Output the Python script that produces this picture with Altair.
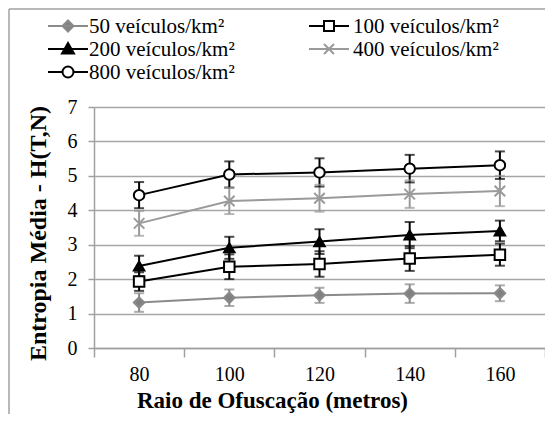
import altair as alt
import pandas as pd

raio = [80, 100, 120, 140, 160]
series = ["50 veículos/km²", "100 veículos/km²", "200 veículos/km²",
          "400 veículos/km²", "800 veículos/km²"]
v50 = [1.32, 1.46, 1.53, 1.58, 1.59]
e50 = [0.27, 0.24, 0.22, 0.27, 0.23]
v100 = [1.93, 2.36, 2.44, 2.60, 2.71]
e100 = [0.27, 0.36, 0.37, 0.36, 0.32]
v200 = [2.38, 2.91, 3.09, 3.28, 3.40]
e200 = [0.30, 0.32, 0.36, 0.38, 0.30]
v400 = [3.62, 4.27, 4.35, 4.47, 4.56]
e400 = [0.36, 0.38, 0.39, 0.40, 0.44]
v800 = [4.44, 5.04, 5.10, 5.21, 5.31]
e800 = [0.38, 0.38, 0.41, 0.40, 0.40]

line_colors = ["#8a8a8a", "#000000", "#000000", "#9a9a9a", "#000000"]
fill_colors = ["#808080", "#ffffff", "#000000", "transparent", "#ffffff"]
shapes = ["diamond", "square", "triangle-up", "M-1,-1L1,1M-1,1L1,-1", "circle"]
sizes = [110, 110, 120, 70, 150]
legend_paths = [
    "M-2,0H2M0,-0.55L0.55,0L0,0.55L-0.55,0Z",
    "M-2,0H-0.5M0.5,0H2M-0.5,-0.5H0.5V0.5H-0.5Z",
    "M-2,0H2M0,-0.6L0.6,0.45H-0.6Z",
    "M-2,0H2M-0.5,-0.5L0.5,0.5M-0.5,0.5L0.5,-0.5",
    "M-2,0H-0.55M0.55,0H2M-0.55,0A0.55,0.55 0 1,0 0.55,0A0.55,0.55 0 1,0 -0.55,0Z",
]
# legend grid slot (column, row) of each series
legend_col = [0, 1, 0, 1, 0]
legend_row = [0, 0, 1, 1, 2]

rows = []
for s, vals, errs in zip(series, [v50, v100, v200, v400, v800], [e50, e100, e200, e400, e800]):
    for r, v, e in zip(raio, vals, errs):
        rows.append({"raio": r, "serie": s, "val": v, "lo": v - e, "hi": v + e})
df = pd.DataFrame(rows)

FONT = "Liberation Serif"

x_axis = alt.Axis(title="Raio de Ofuscação (metros)", labelAngle=0,
                  tickBand="extent", tickSize=9, labelPadding=7, grid=False,
                  titleX=178, titleY=41, titleFontWeight="bold",
                  labelFont=FONT, titleFont=FONT, labelFontSize=20, titleFontSize=23)
y_axis = alt.Axis(title="Entropia Média - H(T,N)", values=list(range(8)),
                  tickSize=6, labelPadding=11, titleFontWeight="bold",
                  titleX=-44, titleY=126, labelOverlap=False, grid=True,
                  labelFont=FONT, titleFont=FONT, labelFontSize=20, titleFontSize=24)
x_scale = alt.Scale(paddingInner=0, paddingOuter=0)
y_scale = alt.Scale(domain=[0, 7], nice=False)


def X():
    return alt.X("raio:O", scale=x_scale, axis=x_axis)


def Y(field):
    return alt.Y(field + ":Q", scale=y_scale, axis=y_axis)


stroke_sc = alt.Scale(domain=series, range=line_colors)
fill_sc = alt.Scale(domain=series, range=fill_colors)

base = alt.Chart(df)

err = base.mark_rule(strokeWidth=2).encode(
    x=X(), y=Y("lo"), y2="hi:Q",
    stroke=alt.Stroke("serie:N", scale=stroke_sc, legend=None))
cap_lo = base.mark_tick(size=10, thickness=2).encode(
    x=X(), y=Y("lo"), color=alt.Color("serie:N", scale=stroke_sc, legend=None))
cap_hi = base.mark_tick(size=10, thickness=2).encode(
    x=X(), y=Y("hi"), color=alt.Color("serie:N", scale=stroke_sc, legend=None))
lines = base.mark_line(strokeWidth=2).encode(
    x=X(), y=Y("val"),
    stroke=alt.Stroke("serie:N", scale=stroke_sc, legend=None),
    detail="serie:N")
points = base.mark_point(opacity=1, strokeWidth=2).encode(
    x=X(), y=Y("val"),
    stroke=alt.Stroke("serie:N", scale=stroke_sc, legend=None),
    fill=alt.Fill("serie:N", scale=fill_sc, legend=None),
    shape=alt.Shape("serie:N", scale=alt.Scale(domain=series, range=shapes), legend=None),
    size=alt.Size("serie:N", scale=alt.Scale(domain=series, range=sizes), legend=None))

# hand-built legend (two columns, Excel style line+marker symbols)
COL_SYM = [-26, 235]
COL_TXT = [-5, 259]
ROW_Y = [-81, -58, -35]
legend_layers = []
for i, s in enumerate(series):
    c, r = legend_col[i], legend_row[i]
    one = alt.Chart(pd.DataFrame({"t": [s]}))
    legend_layers.append(one.mark_point(
        shape=legend_paths[i], size=400, opacity=1, strokeWidth=2,
        stroke=line_colors[i], fill=fill_colors[i]).encode(
        x=alt.value(COL_SYM[c]), y=alt.value(ROW_Y[r])))
    legend_layers.append(one.mark_text(
        font=FONT, fontSize=21, align="left", baseline="middle", color="#000000").encode(
        text="t:N", x=alt.value(COL_TXT[c]), y=alt.value(ROW_Y[r] + 1)))

frame_l = alt.Chart(pd.DataFrame({"k": [0]})).mark_rule(color="#a0a0a0", strokeWidth=1.5).encode(
    x=alt.value(-85), y=alt.value(-98), y2=alt.value(320))
frame_t = alt.Chart(pd.DataFrame({"k": [0]})).mark_rule(color="#a0a0a0", strokeWidth=1.5).encode(
    x=alt.value(-85), x2=alt.value(470), y=alt.value(-98))

chart = alt.layer(err, cap_lo, cap_hi, lines, points, *legend_layers, frame_l, frame_t).resolve_scale(
    shape="independent", size="independent"
).properties(
    width=451, height=241, autosize=alt.AutoSizeParams(type="none"),
    padding={"left": 86, "top": 99, "right": 0, "bottom": 66}
).configure(font=FONT).configure_view(stroke=None).configure_axis(
    labelColor="#000000", titleColor="#000000",
    domainColor="#a0a0a0", tickColor="#a0a0a0", gridColor="#a6a6a6",
    domainWidth=1.5, tickWidth=1.5, gridWidth=1.5
)

chart.save("out.html", embed_options={"renderer": "svg", "actions": False})
